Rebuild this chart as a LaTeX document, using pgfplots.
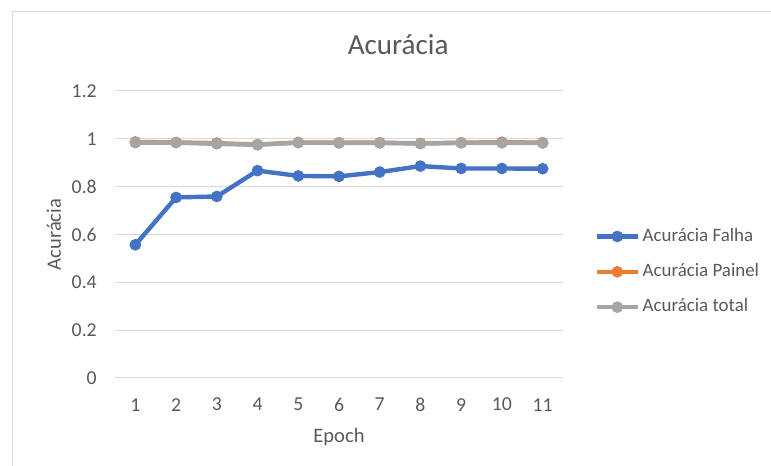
\documentclass[border=0pt]{standalone}
\usepackage{pgfplots}
\pgfplotsset{compat=1.18}
\usepackage{fontspec}
\setmainfont{Carlito}
\definecolor{txt}{HTML}{595959}
\definecolor{gridc}{HTML}{D9D9D9}
\definecolor{cblue}{HTML}{4472C4}
\definecolor{corange}{HTML}{ED7D31}
\definecolor{cgray}{HTML}{A5A5A5}
\begin{document}
\begin{tikzpicture}
\useasboundingbox (0,0) rectangle (578.25pt,349.5pt);
\draw[gridc, line width=0.75pt] (9pt,-20pt) rectangle (600pt,340.5pt);
\begin{axis}[
  at={(86.25pt,66pt)}, anchor=south west,
  scale only axis, width=336pt, height=215.25pt,
  xmin=0.5, xmax=11.5, ymin=0, ymax=1.2,
  axis line style={draw=none}, tick style={draw=none},
  ymajorgrids, grid style={gridc, line width=0.75pt},
  xtick={1,2,3,4,5,6,7,8,9,10,11},
  xticklabels={1,2,3,4,5,6,7,8,9,10,11},
  ytick={0,0.2,0.4,0.6,0.8,1,1.2},
  yticklabels={0,0.2,0.4,0.6,0.8,1,1.2},
  ticklabel style={font=\fontsize{14.8}{17}\selectfont, text=txt},
  yticklabel style={anchor=east, inner sep=0pt, xshift=-13.5pt},
  xticklabel style={anchor=center, inner sep=0pt, yshift=-20pt},
  xlabel={Epoch}, ylabel={Acurácia},
  label style={font=\fontsize{15.4}{18}\selectfont, text=txt},
  xlabel style={at={(0.5,0)}, anchor=center, yshift=-44pt},
  ylabel style={at={(0,0.5)}, anchor=center, rotate=0, yshift=45.75pt},
  title={Acurácia},
  title style={at={(0.632,1)}, anchor=center, yshift=28.5pt, font=\fontsize{21.8}{26}\selectfont, text=txt},
  legend style={draw=none, fill=none, inner sep=0pt, at={(1,0.37)}, anchor=west, xshift=23.5pt,
    font=\fontsize{14.2}{17}\selectfont, text=txt, row sep=13.5pt, column sep=2pt,
    nodes={inner sep=0pt, text height=10pt, text depth=3pt}},
  legend cell align=left,
  legend image code/.code={\draw[mark repeat=2,mark phase=2,#1] plot coordinates {(0pt,0pt) (15.375pt,0pt) (30.75pt,0pt)};},
  every axis plot/.append style={line width=3.3pt, mark=*, mark size=4pt},
]
\addplot[cblue, mark options={fill=cblue, draw=cblue, line width=0.75pt}] coordinates {
(1,0.557) (2,0.755) (3,0.759) (4,0.867) (5,0.845) (6,0.843) (7,0.861) (8,0.886) (9,0.876) (10,0.876) (11,0.875)};
\addlegendentry{Acurácia Falha}
\addplot[corange, mark options={fill=corange, draw=corange, line width=0.75pt}] coordinates {
(1,0.987) (2,0.985) (3,0.982) (4,0.976) (5,0.985) (6,0.984) (7,0.984) (8,0.981) (9,0.984) (10,0.986) (11,0.984)};
\addlegendentry{Acurácia Painel}
\addplot[cgray, mark options={fill=cgray, draw=cgray, line width=0.75pt}] coordinates {
(1,0.984) (2,0.984) (3,0.979) (4,0.975) (5,0.984) (6,0.983) (7,0.983) (8,0.980) (9,0.983) (10,0.983) (11,0.983)};
\addlegendentry{Acurácia total}
\end{axis}
\end{tikzpicture}
\end{document}
